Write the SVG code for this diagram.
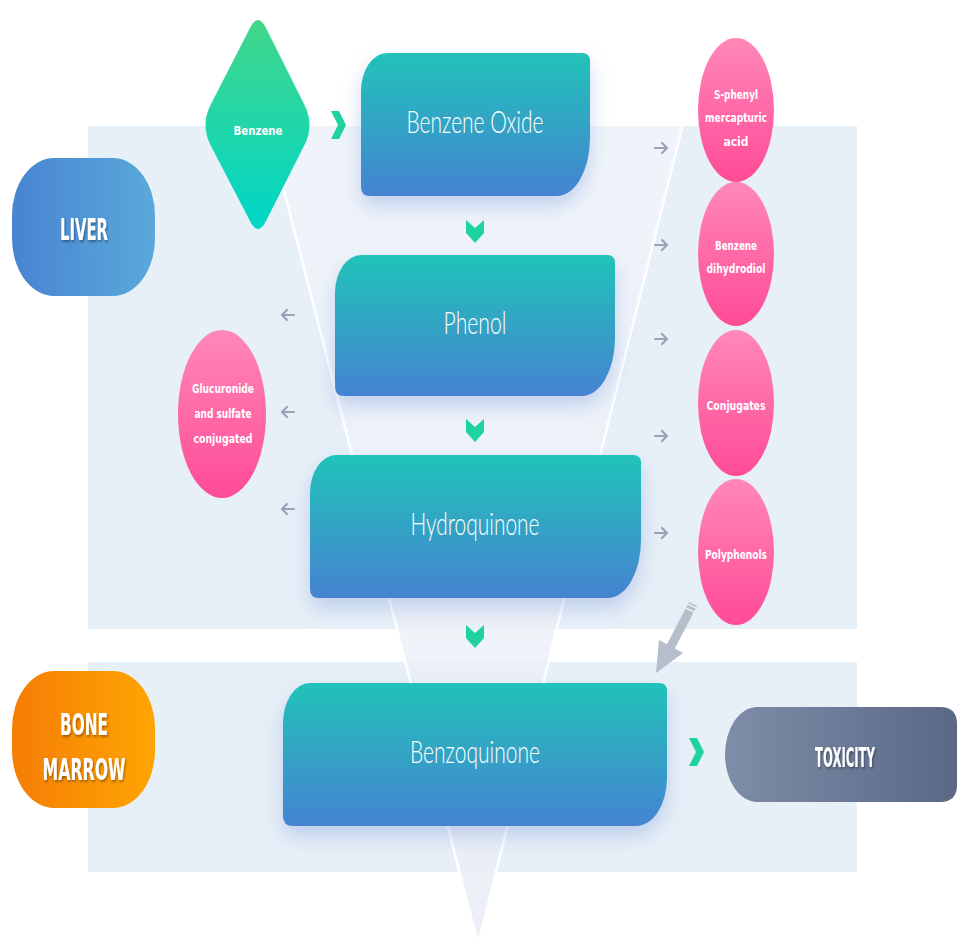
<svg xmlns="http://www.w3.org/2000/svg" width="957" height="944" viewBox="0 0 957 944">
<defs>
<linearGradient id="gBox" x1="0" y1="0" x2="0" y2="1"><stop offset="0" stop-color="#21c3b9"/><stop offset="1" stop-color="#4583d1"/></linearGradient>
<linearGradient id="gLiver" x1="0" y1="0" x2="1" y2="0"><stop offset="0" stop-color="#4884d1"/><stop offset="1" stop-color="#5aa9db"/></linearGradient>
<linearGradient id="gBone" x1="0" y1="0" x2="1" y2="0"><stop offset="0" stop-color="#f57d05"/><stop offset="1" stop-color="#ffa502"/></linearGradient>
<linearGradient id="gTox" x1="0" y1="0" x2="1" y2="0"><stop offset="0" stop-color="#7f8da8"/><stop offset="1" stop-color="#5a6886"/></linearGradient>
<linearGradient id="gPink" x1="0" y1="0" x2="0" y2="1"><stop offset="0" stop-color="#ff88b8"/><stop offset="1" stop-color="#ff4b97"/></linearGradient>
<linearGradient id="gDia" x1="0" y1="0" x2="0" y2="1"><stop offset="0" stop-color="#42d68a"/><stop offset="1" stop-color="#00d6c8"/></linearGradient>
<linearGradient id="gFun" x1="0" y1="0" x2="0" y2="1"><stop offset="0" stop-color="#f3f6fb" stop-opacity="0.7"/><stop offset="1" stop-color="#e9edf5" stop-opacity="0.9"/></linearGradient>
<filter id="sh" x="-20%" y="-20%" width="140%" height="160%"><feDropShadow dx="0" dy="10" stdDeviation="10" flood-color="#6f92d6" flood-opacity="0.35"/></filter>
<filter id="tsh" x="-20%" y="-20%" width="140%" height="160%"><feDropShadow dx="1" dy="2" stdDeviation="0.8" flood-color="#000" flood-opacity="0.35"/></filter>
</defs>
<style>
.box{fill:url(#gBox);filter:url(#sh)}
.bt{font-family:Lato,"Open Sans","Liberation Sans",sans-serif;font-weight:300;fill:#fff;text-anchor:middle;font-size:31px}
.pink{fill:url(#gPink)}
.pt{font-family:"DejaVu Sans Condensed","DejaVu Sans",sans-serif;font-stretch:condensed;font-weight:bold;fill:#fff;text-anchor:middle;font-size:13px}
.lt{font-family:"DejaVu Sans Condensed","DejaVu Sans",sans-serif;font-stretch:condensed;font-weight:bold;fill:#fff;text-anchor:middle;filter:url(#tsh)}
.chev{fill:#1fd3a0}
.ga{fill:none;stroke:#9aa3b6;stroke-width:2.2;stroke-linecap:round;stroke-linejoin:round}
</style>
<rect width="957" height="944" fill="#fff"/>
<g id="panels">
<rect x="88" y="126" width="769" height="503" fill="#e7eff7"/>
<rect x="88" y="662" width="769" height="210" fill="#e7eff7"/>
<polygon points="267,126 683,126 478,944" fill="url(#gFun)"/>
<polyline points="262,105 478,944 689,100" fill="none" stroke="#fff" stroke-width="2.5"/>
</g>
<g id="connectors">
<polygon class="chev" points="331,111 339,111 346,125 339,139 331,139 338,125"/>
<polygon class="chev" points="466,220 475,228 484,220 484,233 475,243 466,233"/>
<polygon class="chev" points="466,419 475,427 484,419 484,432 475,442 466,432"/>
<polygon class="chev" points="466,625 475,633 484,625 484,638 475,648 466,638"/>
<polygon class="chev" points="689,738 697,738 704,752 697,766 689,766 696,752"/>
<g class="ga">
<path d="M655 148 H667 M662 143 L667 148 L662 153"/>
<path d="M655 245 H667 M662 240 L667 245 L662 250"/>
<path d="M655 339 H667 M662 334 L667 339 L662 344"/>
<path d="M655 436 H667 M662 431 L667 436 L662 441"/>
<path d="M655 533 H667 M662 528 L667 533 L662 538"/>
<path d="M294 315 H282 M287 310 L282 315 L287 320"/>
<path d="M294 412 H282 M287 407 L282 412 L287 417"/>
<path d="M294 509 H282 M287 504 L282 509 L287 514"/>
</g>
<line x1="693" y1="604" x2="670" y2="648" stroke="#b6bdcb" stroke-width="9"/>
<line x1="686" y1="603" x2="696" y2="608" stroke="#e7eff7" stroke-width="1.5"/>
<line x1="684" y1="607" x2="694" y2="612" stroke="#e7eff7" stroke-width="1.5"/>
<polygon points="656,673 659,640 683,653" fill="#b6bdcb"/>
</g>
<g id="liver">
<rect x="12" y="158" width="143" height="138" rx="42" ry="58" fill="url(#gLiver)"/>
<text class="lt" x="84" y="240" font-size="30" textLength="48" lengthAdjust="spacingAndGlyphs">LIVER</text>
</g>
<g id="bone-marrow">
<rect x="12" y="671" width="143" height="137" rx="42" ry="58" fill="url(#gBone)"/>
<text class="lt" x="84" y="735" font-size="30" textLength="48" lengthAdjust="spacingAndGlyphs">BONE</text>
<text class="lt" x="84" y="780" font-size="30" textLength="83" lengthAdjust="spacingAndGlyphs">MARROW</text>
</g>
<g id="benzene">
<path d="M250 28 Q258 12 266 28 L304 104 Q315 125 304 146 L266 221 Q258 237 250 221 L211 146 Q200 125 211 104 Z" fill="url(#gDia)"/>
<text class="pt" x="258" y="135" font-size="16" textLength="49" lengthAdjust="spacingAndGlyphs">Benzene</text>
</g>
<g id="benzene-oxide">
<path class="box" d="M361 91 A26 38 0 0 1 387 53 L582 53 Q590 53 590 61 L590 138 A33 58 0 0 1 557 196 L370 196 Q361 196 361 187 Z"/>
<text class="bt" x="475" y="133" textLength="137" lengthAdjust="spacingAndGlyphs">Benzene Oxide</text>
</g>
<g id="phenol">
<path class="box" d="M335 293 A26 38 0 0 1 361 255 L607 255 Q615 255 615 263 L615 338 A33 58 0 0 1 582 396 L344 396 Q335 396 335 387 Z"/>
<text class="bt" x="475" y="334" textLength="63" lengthAdjust="spacingAndGlyphs">Phenol</text>
</g>
<g id="hydroquinone">
<path class="box" d="M310 493 A26 38 0 0 1 336 455 L633 455 Q641 455 641 463 L641 540 A33 58 0 0 1 608 598 L319 598 Q310 598 310 589 Z"/>
<text class="bt" x="475" y="535" textLength="129" lengthAdjust="spacingAndGlyphs">Hydroquinone</text>
</g>
<g id="benzoquinone">
<path class="box" d="M283 723 A27 40 0 0 1 310 683 L659 683 Q667 683 667 691 L667 778 A31 48 0 0 1 636 826 L293 826 Q283 826 283 816 Z"/>
<text class="bt" x="475" y="763" textLength="130" lengthAdjust="spacingAndGlyphs">Benzoquinone</text>
</g>
<g id="toxicity">
<path d="M757 707 L940 707 Q957 707 957 724 L957 785 Q957 802 940 802 L757 802 A32 47.5 0 0 1 757 707 Z" fill="url(#gTox)"/>
<text class="lt" x="845" y="767" font-size="26" textLength="60" lengthAdjust="spacingAndGlyphs">TOXICITY</text>
</g>
<g id="glucuronide">
<ellipse class="pink" cx="222" cy="414" rx="44" ry="84"/>
<text class="pt" x="223" y="393" textLength="62" lengthAdjust="spacingAndGlyphs">Glucuronide</text>
<text class="pt" x="223" y="418" textLength="57" lengthAdjust="spacingAndGlyphs">and sulfate</text>
<text class="pt" x="223" y="443" textLength="59" lengthAdjust="spacingAndGlyphs">conjugated</text>
</g>
<g id="s-phenyl">
<ellipse class="pink" cx="736" cy="110" rx="38" ry="72"/>
<text class="pt" x="736" y="99" textLength="44" lengthAdjust="spacingAndGlyphs">S-phenyl</text>
<text class="pt" x="736" y="122" textLength="62" lengthAdjust="spacingAndGlyphs">mercapturic</text>
<text class="pt" x="736" y="146" textLength="25" lengthAdjust="spacingAndGlyphs">acid</text>
</g>
<g id="benzene-dihydrodiol">
<ellipse class="pink" cx="736" cy="254" rx="38" ry="72"/>
<text class="pt" x="736" y="250" textLength="42" lengthAdjust="spacingAndGlyphs">Benzene</text>
<text class="pt" x="736" y="273" textLength="59" lengthAdjust="spacingAndGlyphs">dihydrodiol</text>
</g>
<g id="conjugates">
<ellipse class="pink" cx="736" cy="403" rx="38" ry="73"/>
<text class="pt" x="736" y="410" textLength="59" lengthAdjust="spacingAndGlyphs">Conjugates</text>
</g>
<g id="polyphenols">
<ellipse class="pink" cx="736" cy="552" rx="38" ry="73"/>
<text class="pt" x="736" y="559" textLength="62" lengthAdjust="spacingAndGlyphs">Polyphenols</text>
</g>
</svg>
